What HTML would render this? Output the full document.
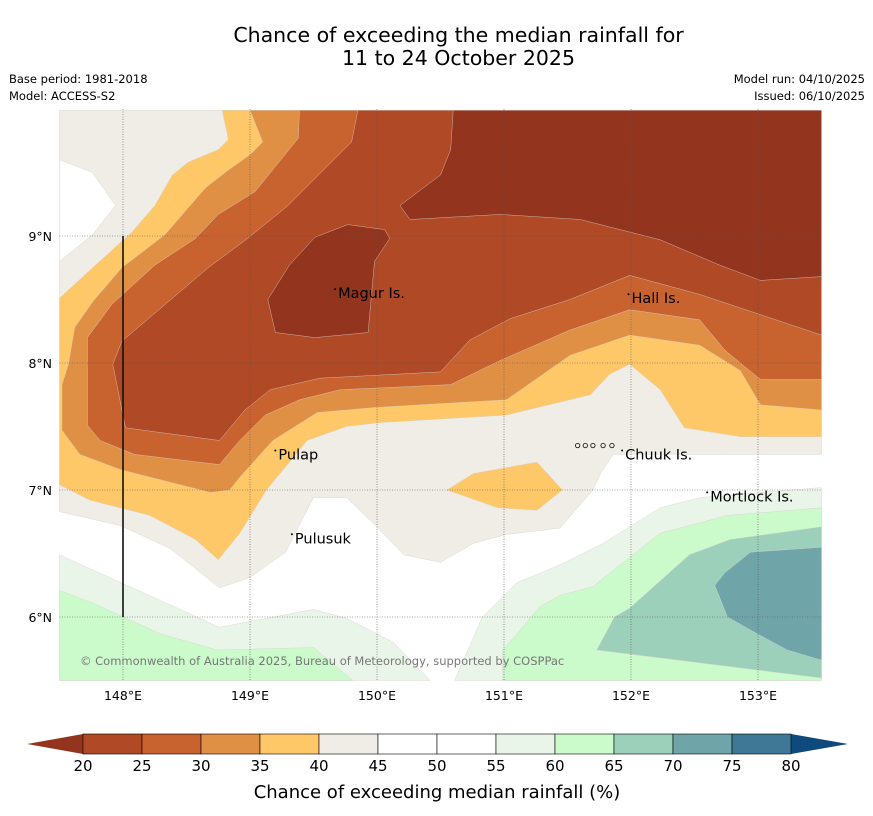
<!DOCTYPE html>
<html><head><meta charset="utf-8">
<style>
body{margin:0;background:#fff;font-family:"DejaVu Sans","Liberation Sans",sans-serif;}
#wrap{position:relative;width:873px;height:816px;overflow:hidden;}
.t{position:absolute;white-space:nowrap;color:#000;}
svg text{font-family:"DejaVu Sans","Liberation Sans",sans-serif;}
</style></head><body>
<div id="wrap">
<div class="t" style="left:0;width:917px;text-align:center;top:23px;font-size:20.5px;">Chance of exceeding the median rainfall for</div>
<div class="t" style="left:0;width:917px;text-align:center;top:46px;font-size:20.5px;">11 to 24 October 2025</div>
<div class="t" style="left:9px;top:72px;font-size:11.5px;">Base period: 1981-2018</div>
<div class="t" style="left:9px;top:89px;font-size:11.5px;">Model: ACCESS-S2</div>
<div class="t" style="right:8px;top:72px;font-size:11.5px;">Model run: 04/10/2025</div>
<div class="t" style="right:8px;top:89px;font-size:11.5px;">Issued: 06/10/2025</div>
<svg id="svg" width="873" height="816" style="position:absolute;left:0;top:0"></svg>
</div>
<script>
const NS='http://www.w3.org/2000/svg';
const svg=document.getElementById('svg');
const lonMin=147.5, lonMax=153.5, latMin=5.5, latMax=10.0;
const X0=59.5, X1=821.5, Y0=109, Y1=680.5;
function xs(lon){return X0+(lon-lonMin)/(lonMax-lonMin)*(X1-X0);}
function ys(lat){return Y0+(latMax-lat)/(latMax-latMin)*(Y1-Y0);}

const lonTicks=[148,149,150,151,152,153];
const latTicks=[6,7,8,9];
const cbLevels=[20,25,30,35,40,45,50,55,60,65,70,75,80];
const cbColors=['#b04a26','#c8622f','#e09045','#fec868','#f0ece6','#ffffff','#ffffff','#eaf5e9','#cbfacb','#9dd0ba','#6fa5a8','#3f7896'];

const beige=[147.5,9.99,153.5,9.99,153.5,7.28,151.86,7.28,151.76,7.13,151.70,7.00,151.44,6.70,151.02,6.65,150.76,6.58,150.50,6.43,150.21,6.49,150.00,6.71,149.76,6.94,149.50,6.94,149.28,6.51,149.00,6.31,148.76,6.23,148.37,6.54,147.98,6.72,147.5,6.83];
const whiteWedge=[147.5,9.60,147.76,9.50,147.94,9.24,147.76,9.01,147.5,8.80];
const yellow=[148.78,9.99,148.83,9.76,148.75,9.68,148.51,9.58,148.39,9.48,148.25,9.24,148.07,9.03,147.76,8.75,147.5,8.51,147.5,7.04,147.74,6.92,148.21,6.80,148.57,6.61,148.75,6.45,148.92,6.66,149.13,7.00,149.45,7.39,149.76,7.50,150.02,7.53,151.02,7.59,151.68,7.75,151.83,7.91,151.99,7.99,152.23,7.79,152.42,7.49,152.86,7.42,153.5,7.42,153.5,9.99];
const yellowIsland=[150.55,7.00,150.76,7.13,151.26,7.22,151.46,7.00,151.26,6.84,150.95,6.86];
const orange=[149.00,9.99,149.10,9.74,149.00,9.64,148.83,9.52,148.65,9.38,148.33,9.01,147.99,8.75,147.76,8.48,147.62,8.28,147.57,7.99,147.52,7.83,147.52,7.47,147.66,7.28,147.98,7.16,148.69,6.98,148.84,7.00,148.92,7.10,149.18,7.39,149.53,7.61,150.00,7.65,151.02,7.71,151.52,8.06,151.99,8.22,152.54,8.14,152.86,7.94,153.02,7.67,153.5,7.63,153.5,9.99];
const darkOrange=[149.39,9.99,149.38,9.77,149.04,9.35,148.75,9.17,148.57,8.98,148.25,8.77,147.91,8.46,147.72,8.20,147.72,7.99,147.72,7.51,147.82,7.39,148.09,7.28,148.76,7.20,148.92,7.39,149.12,7.59,149.39,7.71,149.71,7.79,150.58,7.83,150.97,8.02,151.52,8.26,151.99,8.42,152.54,8.34,152.74,8.10,153.02,7.87,153.5,7.87,153.5,9.99];
const red=[149.85,9.99,149.80,9.74,149.30,9.24,148.98,8.98,148.67,8.75,148.33,8.46,147.99,8.17,147.92,7.99,148.02,7.49,148.76,7.39,148.96,7.63,149.16,7.79,149.55,7.88,150.50,7.93,150.73,8.18,151.05,8.35,151.52,8.50,151.99,8.69,152.54,8.54,153.02,8.38,153.5,8.22,153.5,9.99];
const darkest1=[150.60,9.99,150.58,9.68,150.50,9.48,150.18,9.24,150.26,9.13,150.97,9.17,151.60,9.13,152.23,8.97,152.70,8.77,153.02,8.65,153.5,8.68,153.5,9.99];
const darkest2=[149.14,8.50,149.20,8.24,149.51,8.20,149.93,8.24,149.98,8.80,150.10,8.98,150.06,9.05,149.77,9.09,149.51,8.99,149.31,8.77];
const lightGreenL=[147.5,6.49,148.76,5.92,149.50,6.06,149.76,5.99,150.13,5.80,150.42,5.5,147.5,5.5];
const lightGreenR=[150.61,5.5,150.83,6.00,151.10,6.27,151.44,6.41,151.78,6.58,152.23,6.86,152.54,6.94,153.5,7.02,153.5,5.5];
const greenL=[147.5,6.21,147.76,6.11,148.29,5.87,148.74,5.74,149.50,5.76,149.81,5.5,147.5,5.5];
const greenR=[150.99,5.5,150.99,5.74,151.13,5.90,151.28,6.08,151.44,6.17,151.70,6.24,152.23,6.66,152.76,6.80,153.5,6.86,153.5,5.5];
const teal=[151.73,5.74,151.87,6.00,151.99,6.07,152.46,6.49,152.78,6.61,153.5,6.71,153.5,5.52];
const darkTeal=[152.66,6.25,152.74,6.35,152.94,6.51,153.5,6.55,153.5,5.66,153.23,5.74,152.99,5.87,152.76,6.00];

function el(tag,attrs,name,inter){const e=document.createElementNS(NS,tag);for(const k in attrs)e.setAttribute(k,attrs[k]);


svg.appendChild(e);return e;}
function poly(arr,fill,name){let p=[];for(let i=0;i<arr.length;i+=2)p.push(xs(arr[i]).toFixed(1)+','+ys(arr[i+1]).toFixed(1));
el('polygon',{points:p.join(' '),fill:fill,stroke:'#d6d2cc','stroke-width':0.4},name,false);}

el('rect',{x:X0,y:Y0,width:X1-X0,height:Y1-Y0,fill:'#fff'},'map-background',false);
poly(beige,'#f0ece6','contour-40-45');
poly(whiteWedge,'#ffffff','contour-45-50-topleft');
poly(yellow,'#fec868','contour-35-40');
poly(yellowIsland,'#fec868','contour-35-40-island');
poly(orange,'#e09045','contour-30-35');
poly(darkOrange,'#c8622f','contour-25-30');
poly(red,'#b04a26','contour-20-25');
poly(darkest1,'#93341e','contour-below-20-north');
poly(darkest2,'#93341e','contour-below-20-magur');
poly(lightGreenL,'#eaf5e9','contour-55-60-west');
poly(lightGreenR,'#eaf5e9','contour-55-60-east');
poly(greenL,'#cbfacb','contour-60-65-west');
poly(greenR,'#cbfacb','contour-60-65-east');
poly(teal,'#9dd0ba','contour-65-70');
poly(darkTeal,'#6fa5a8','contour-70-75');

lonTicks.forEach(v=>{
 el('line',{x1:xs(v),x2:xs(v),y1:Y0,y2:Y1,stroke:'#555','stroke-width':0.6,'stroke-dasharray':'1,1.5'},'lon-gridline',false);
 const t=el('text',{x:xs(v),y:700,'text-anchor':'middle','font-size':12.5},'lon-tick-label',false);t.textContent=v+'°E';
});
latTicks.forEach(v=>{
 el('line',{x1:X0,x2:X1,y1:ys(v),y2:ys(v),stroke:'#555','stroke-width':0.6,'stroke-dasharray':'1,1.5'},'lat-gridline',false);
 const t=el('text',{x:52,y:ys(v)+5,'text-anchor':'end','font-size':12.5},'lat-tick-label',false);t.textContent=v+'°N';
});
el('line',{x1:xs(148),x2:xs(148),y1:ys(9),y2:ys(6),stroke:'#111','stroke-width':1.6},'boundary-line',false);

const places=[['Magur Is.',149.67,8.55],['Hall Is.',151.98,8.51],['Pulap',149.2,7.28],['Chuuk Is.',151.93,7.28],['Mortlock Is.',152.6,6.95],['Pulusuk',149.33,6.62]];
places.forEach(p=>{
 const t=el('text',{x:xs(p[1])+3,y:ys(p[2])+5,'font-size':14.5},'place-label',false);t.textContent=p[0];
 el('circle',{cx:xs(p[1]),cy:ys(p[2])-4,r:1,fill:'#000'},'island-marker',false);
});
[151.58,151.64,151.7,151.78,151.85].forEach(v=>{el('circle',{cx:xs(v),cy:ys(7.35),r:2.2,fill:'none',stroke:'#000','stroke-width':0.8},'chuuk-island',false);});
const cp=el('text',{x:80,y:665,'font-size':11.5,fill:'#777'},'copyright',false);cp.textContent='© Commonwealth of Australia 2025, Bureau of Meteorology, supported by COSPPac';

const cbX0=83,cbX1=791,cbY=734,cbH=20;
function cbx(v){return cbX0+(v-cbLevels[0])/(cbLevels[cbLevels.length-1]-cbLevels[0])*(cbX1-cbX0);}
el('polygon',{points:`${cbx(20)},${cbY} 27,${cbY+cbH/2} ${cbx(20)},${cbY+cbH}`,fill:'#93341e'},'colorbar-extend-low',false);
el('polygon',{points:`${cbx(80)},${cbY} 848,${cbY+cbH/2} ${cbx(80)},${cbY+cbH}`,fill:'#0e4a7c'},'colorbar-extend-high',false);
for(let i=0;i<cbColors.length;i++){
 el('rect',{x:cbx(cbLevels[i]),y:cbY,width:cbx(cbLevels[i+1])-cbx(cbLevels[i]),height:cbH,fill:cbColors[i],stroke:'#000','stroke-width':0.6},'colorbar-segment',false);
}
cbLevels.forEach(v=>{const t=el('text',{x:cbx(v),y:771,'text-anchor':'middle','font-size':15},'colorbar-tick-label',false);t.textContent=v;});
const ct=el('text',{x:437,y:798,'text-anchor':'middle','font-size':18},'colorbar-title',false);ct.textContent='Chance of exceeding median rainfall (%)';
</script>
</body></html>
